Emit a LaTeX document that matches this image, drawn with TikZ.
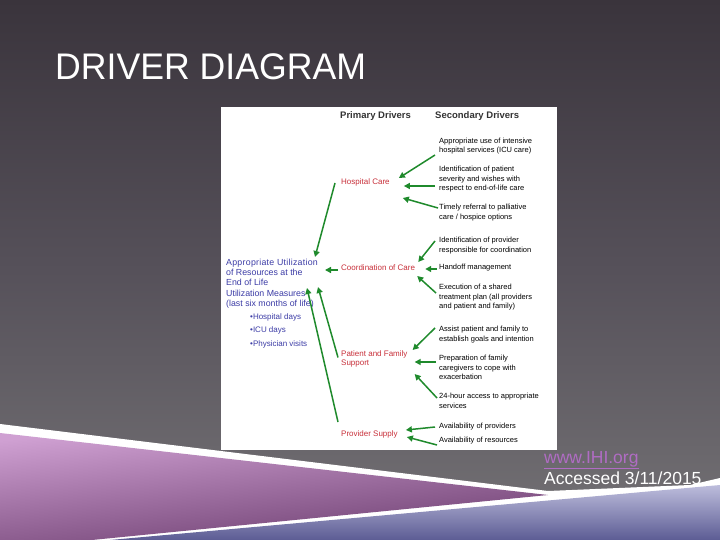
\documentclass[tikz,border=0pt]{standalone}
\usepackage{fontspec}
\setmainfont{Liberation Sans}
\usetikzlibrary{arrows.meta}
\definecolor{bgtop}{HTML}{3A343C}
\definecolor{bgmid}{HTML}{56515A}
\definecolor{bgbot}{HTML}{747275}
\definecolor{grn}{HTML}{1F8A2C}
\definecolor{drvred}{HTML}{C8303A}
\definecolor{outblue}{HTML}{3C3CA6}
\definecolor{hdrgray}{HTML}{333333}
\definecolor{linkc}{HTML}{B06CC4}
\definecolor{purtop}{HTML}{CFA0D2}
\definecolor{purmid}{HTML}{B07CB4}
\definecolor{purbot}{HTML}{6B3C6E}
\definecolor{blutop}{HTML}{BDBDDC}
\definecolor{blumid}{HTML}{7676AE}
\definecolor{blubot}{HTML}{5C5C94}
\tikzset{
  sec/.style={font=\fontsize{7.5}{9.5}\selectfont, align=left, anchor=west, inner sep=0pt, text=black},
  prim/.style={font=\fontsize{8}{9}\selectfont, align=left, anchor=west, inner sep=0pt, text=drvred},
  outc/.style={font=\fontsize{8.8}{10.25}\selectfont, align=left, anchor=west, inner sep=0pt, text=outblue},
  bult/.style={font=\fontsize{8}{13.5}\selectfont, align=left, anchor=west, inner sep=0pt, text=outblue},
  hdr/.style={font=\fontsize{9.5}{11}\selectfont\bfseries, anchor=west, inner sep=0pt, text=hdrgray},
  arr/.style={draw=grn, line width=1.5pt, -{Triangle[length=6pt,width=6pt]}}
}
\begin{document}
\begin{tikzpicture}[x=1pt,y=-1pt]
\useasboundingbox (0,0) rectangle (720,540);
% background
\shade[top color=bgtop, bottom color=bgbot, middle color=bgmid] (0,0) rectangle (720,540);
% bottom decoration
\fill[white] (0,424) -- (548,491) -- (690,485) -- (720,478) -- (720,540) -- (0,540) -- cycle;
\shade[top color=purtop, middle color=purmid, bottom color=purbot, shading angle=6]
  (0,433) -- (548,495) -- (92,540) -- (0,540) -- cycle;
\shade[top color=blutop, middle color=blumid, bottom color=blubot]
  (110,540) -- (720,485) -- (720,540) -- cycle;
% title
\node[anchor=base west, font=\fontsize{37}{40}\selectfont, text=white, xscale=0.963, inner sep=0pt] (title) at (55,80) {DRIVER DIAGRAM};
% image panel
\fill[white] (221,107) rectangle (557,450);
% headers
\node[hdr] (pd) at (340,116) {Primary Drivers};
\node[hdr] (sd) at (435,116) {Secondary Drivers};
% secondary drivers
\node[sec] (s1) at (439,146) {Appropriate use of intensive\\hospital services (ICU care)};
\node[sec] (s2) at (439,179.5) {Identification of patient\\severity and wishes with\\respect to end-of-life care};
\node[sec] (s3) at (439,212.5) {Timely referral to palliative\\care / hospice options};
\node[sec] (s4) at (439,245.5) {Identification of provider\\responsible for coordination};
\node[sec] (s5) at (439,268) {Handoff management};
\node[sec] (s6) at (439,297.5) {Execution of a shared\\treatment plan (all providers\\and patient and family)};
\node[sec] (s7) at (439,334.5) {Assist patient and family to\\establish goals and intention};
\node[sec] (s8) at (439,367.5) {Preparation of family\\caregivers to cope with\\exacerbation};
\node[sec] (s9) at (439,401) {24-hour access to appropriate\\services};
\node[sec] (s10) at (439,427) {Availability of providers};
\node[sec] (s11) at (439,441) {Availability of resources};
% primary drivers
\node[prim] (hc) at (341,182) {Hospital Care};
\node[prim] (cc) at (341,268) {Coordination of Care};
\node[prim] (pf) at (341,358.5) {Patient and Family\\Support};
\node[prim] (ps) at (341,434) {Provider Supply};
% outcome
\node[outc] (out) at (226,283.5) {{\addfontfeature{LetterSpace=3}Appropriate Utilization}\\of Resources at the\\End of Life\\Utilization Measures\\(last six months of life)};
\node[bult] (bul) at (250,330.5) {•Hospital days\\•ICU days\\•Physician visits};
% arrows secondary -> primary
\draw[arr] ([shift={(-4,9)}]s1.west) -- ([shift={(9,-4)}]hc.east);
\draw[arr] ([shift={(-4,6.5)}]s2.west) -- ([shift={(14,4)}]hc.east);
\draw[arr] ([shift={(-1,-4.5)}]s3.west) -- ([shift={(13,16)}]hc.east);
\draw[arr] ([shift={(-4,-4.5)}]s4.west) -- ([shift={(3,-6)}]cc.east);
\draw[arr] ([shift={(-2,1)}]s5.west) -- ([shift={(10,1)}]cc.east);
\draw[arr] ([shift={(-3,-4.5)}]s6.west) -- ([shift={(2,8)}]cc.east);
\draw[arr] ([shift={(-4,-6.5)}]s7.west) -- ([shift={(5,-8.5)}]pf.east);
\draw[arr] ([shift={(-3,-5.5)}]s8.west) -- ([shift={(7,3.5)}]pf.east);
\draw[arr] ([shift={(-2,-3)}]s9.west) -- ([shift={(7,15.5)}]pf.east);
\draw[arr] ([shift={(-4,0)}]s10.west) -- ([shift={(8,-4)}]ps.east);
\draw[arr] ([shift={(-2,4)}]s11.west) -- ([shift={(9,3)}]ps.east);
% arrows primary -> outcome
\draw[arr] ([shift={(-6,1)}]hc.west) -- ([shift={(89,-26.5)}]out.west);
\draw[arr] ([shift={(-3,2)}]cc.west) -- ([shift={(99,-13.5)}]out.west);
\draw[arr] ([shift={(-3,-1)}]pf.west) -- ([shift={(92,3.5)}]out.west);
\draw[arr] ([shift={(-3,-12)}]ps.west) -- ([shift={(81,4.5)}]out.west);
% footer
\node[anchor=base west, text=linkc, font=\fontsize{17.5}{20}\selectfont, inner sep=0pt] (url) at (544,463) {\underline{www.IHI.org}};
\node[anchor=base west, text=white, font=\fontsize{17.5}{20}\selectfont, inner sep=0pt] (acc) at (544,484) {Accessed 3/11/2015};
\end{tikzpicture}
\end{document}
